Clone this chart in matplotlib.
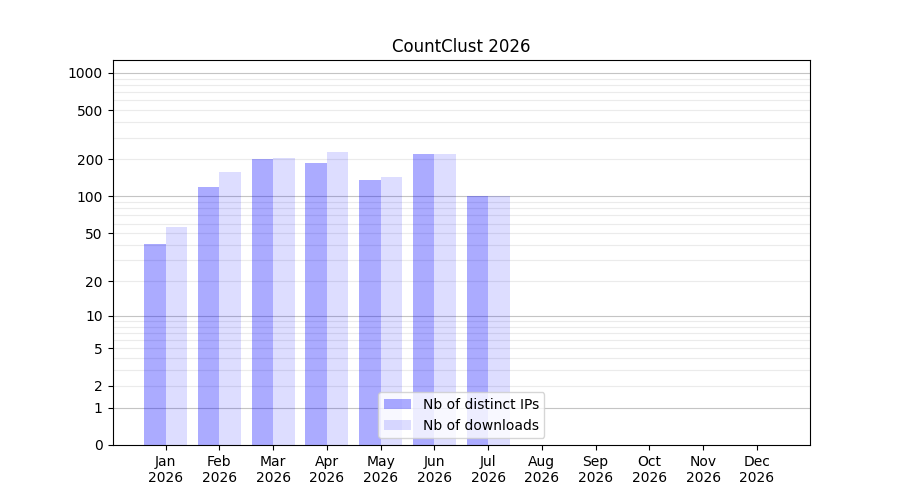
import numpy as np
import matplotlib
matplotlib.use("Agg")
import matplotlib.pyplot as plt

months = ["Jan", "Feb", "Mar", "Apr", "May", "Jun", "Jul", "Aug", "Sep", "Oct", "Nov", "Dec"]
year = "2026"
distinct_ips = [41, 120, 200, 187, 136, 220, 100, 0, 0, 0, 0, 0]
downloads = [56, 158, 205, 230, 144, 220, 100, 0, 0, 0, 0, 0]
ytick_values = [0, 1, 2, 5, 10, 20, 50, 100, 200, 500, 1000]

fig, ax = plt.subplots(figsize=(9, 5), dpi=100)
ax.set_yscale("function", functions=(lambda v: np.log10(np.clip(v, 0, None) + 1),
                                      lambda t: 10 ** t - 1))
x = np.arange(len(months))
w = 0.4
ax.bar(x - w / 2, distinct_ips, width=w, color="blue", alpha=0.33, label="Nb of distinct IPs")
ax.bar(x + w / 2, downloads, width=w, color="blue", alpha=0.133, label="Nb of downloads")

ax.set_ylim(0, 1270)
ax.set_yticks(ytick_values)
ax.set_yticklabels([str(v) for v in ytick_values])
ax.set_xticks(x)
ax.set_xticklabels([f"{m}\n{year}" for m in months])

minor_vals = [m * 10 ** k for k in range(3) for m in range(2, 10)]
major_vals = [1, 10, 100, 1000]
ax.hlines(minor_vals, 0, 1, transform=ax.get_yaxis_transform(), color="#ebebeb", lw=0.8, zorder=0.5)
ax.hlines(major_vals, 0, 1, transform=ax.get_yaxis_transform(), color="#c4c4c4", lw=0.8, zorder=0.6)

ax.set_title("CountClust 2026")
ax.legend(loc="lower center")
fig.savefig("out.png", dpi=100)
